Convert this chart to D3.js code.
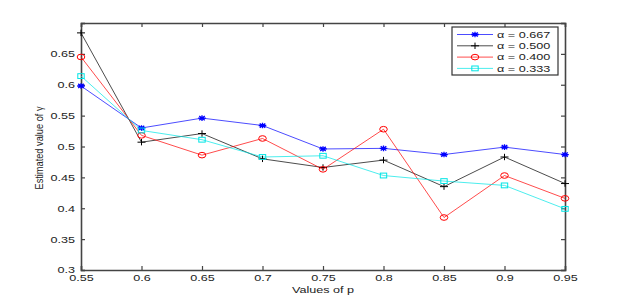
<!DOCTYPE html>
<meta charset="utf-8">
<style>
    body { margin: 0; background: #fff; }
    svg text { font-family: "Liberation Sans", Arial, sans-serif; fill: #222; }
    .axis path, .axis line { stroke: #444; }
</style>
<svg width="623" height="305"></svg>
<script src="https://d3js.org/d3.v7.min.js"></script>
<script>

var pValues = [0.55, 0.6, 0.65, 0.7, 0.75, 0.8, 0.85, 0.9, 0.95];
var alpha667 = [0.598, 0.530, 0.546, 0.534, 0.496, 0.497, 0.487, 0.499, 0.487];
var alpha500 = [0.684, 0.507, 0.521, 0.480, 0.466, 0.478, 0.435, 0.483, 0.440];
var alpha400 = [0.645, 0.518, 0.486, 0.513, 0.463, 0.528, 0.385, 0.453, 0.416];
var alpha333 = [0.614, 0.526, 0.511, 0.483, 0.485, 0.453, 0.444, 0.437, 0.399];
var seriesNames = ["\u03b1 = 0.667", "\u03b1 = 0.500", "\u03b1 = 0.400", "\u03b1 = 0.333"];
var xTicks = [0.55, 0.6, 0.65, 0.7, 0.75, 0.8, 0.85, 0.9, 0.95];
var yTicks = [0.3, 0.35, 0.4, 0.45, 0.5, 0.55, 0.6, 0.65, 0.7];

var series = [
    {name: seriesNames[0], values: alpha667, color: "#0000ff", marker: "star"},
    {name: seriesNames[1], values: alpha500, color: "#000000", marker: "plus"},
    {name: seriesNames[2], values: alpha400, color: "#ff0000", marker: "circle"},
    {name: seriesNames[3], values: alpha333, color: "#00e5e5", marker: "square"}
];

var svg = d3.select("svg"),
    margin = {top: 23, right: 58, bottom: 35, left: 81},
    width = +svg.attr("width") - margin.left - margin.right,
    height = +svg.attr("height") - margin.top - margin.bottom;

var x = d3.scaleLinear().domain([0.55, 0.95]).range([0, width]),
    y = d3.scaleLinear().domain([0.3, 0.7]).range([height, 0]);

var g = svg.append("g")
    .attr("transform", "translate(" + margin.left + "," + margin.top + ")");

// stretch text horizontally like the reference (wide glyphs)
function stretch(sel, k) {
    sel.each(function() {
        var len = this.getComputedTextLength();
        d3.select(this).attr("textLength", len * k).attr("lengthAdjust", "spacingAndGlyphs");
    });
}

var fmt = function(d) { return d3.format("")(+d.toFixed(2)); };

// axes on all four sides, ticks inward
var xb = g.append("g").attr("class", "axis")
    .attr("transform", "translate(0," + height + ")")
    .call(d3.axisBottom(x).tickValues(xTicks).tickSize(-4).tickPadding(5).tickFormat(fmt));
var xt = g.append("g").attr("class", "axis")
    .call(d3.axisTop(x).tickValues(xTicks).tickSize(-4).tickFormat(""));
var yl = g.append("g").attr("class", "axis")
    .call(d3.axisLeft(y).tickValues(yTicks).tickSize(-4).tickPadding(6)
        .tickFormat(function(d) { return d >= 0.69 ? "" : fmt(d); }));
var yr = g.append("g").attr("class", "axis")
    .attr("transform", "translate(" + width + ",0)")
    .call(d3.axisRight(y).tickValues(yTicks).tickSize(-4).tickFormat(""));

g.selectAll(".axis path").attr("stroke-width", 1.6);
g.selectAll(".axis .tick line").attr("stroke-width", 1.2);
g.selectAll(".axis text").attr("font-size", 9).attr("fill", "#222")
    .attr("font-family", "Liberation Sans, Arial, sans-serif");
xb.selectAll("text").attr("dy", "0.71em");
stretch(g.selectAll(".axis text"), 1.4);

// lines
var line = d3.line()
    .x(function(d, i) { return x(pValues[i]); })
    .y(function(d) { return y(d); });

series.forEach(function(s) {
    g.append("path")
        .datum(s.values)
        .attr("fill", "none")
        .attr("stroke", s.color)
        .attr("stroke-opacity", 0.7)
        .attr("stroke-width", 1)
        .attr("d", line);
});

function drawMarker(sel, type, color, cx, cy) {
    if (type === "star") {
        sel.append("path")
            .attr("d", "M" + (cx - 3.8) + "," + cy + "H" + (cx + 3.8) +
                "M" + cx + "," + (cy - 2.8) + "V" + (cy + 2.8) +
                "M" + (cx - 2.8) + "," + (cy - 2.1) + "L" + (cx + 2.8) + "," + (cy + 2.1) +
                "M" + (cx - 2.8) + "," + (cy + 2.1) + "L" + (cx + 2.8) + "," + (cy - 2.1))
            .attr("stroke", color).attr("stroke-width", 1.3).attr("fill", "none");
    } else if (type === "plus") {
        sel.append("path")
            .attr("d", "M" + (cx - 4) + "," + cy + "H" + (cx + 4) +
                "M" + cx + "," + (cy - 3.2) + "V" + (cy + 3.2))
            .attr("stroke", color).attr("stroke-width", 1).attr("fill", "none");
    } else if (type === "circle") {
        sel.append("ellipse")
            .attr("cx", cx).attr("cy", cy).attr("rx", 3.8).attr("ry", 2.8)
            .attr("stroke", color).attr("stroke-width", 1).attr("fill", "none");
    } else {
        sel.append("rect")
            .attr("x", cx - 3.2).attr("y", cy - 2.4).attr("width", 6.4).attr("height", 4.8)
            .attr("stroke", color).attr("stroke-width", 1).attr("fill", "none");
    }
}

series.forEach(function(s) {
    var mg = g.append("g");
    s.values.forEach(function(v, i) {
        drawMarker(mg, s.marker, s.color, x(pValues[i]), y(v));
    });
});

// axis labels
svg.append("text")
    .attr("x", margin.left + width / 2)
    .attr("y", 293)
    .attr("text-anchor", "middle")
    .attr("font-size", 9)
    .text("Values of p")
    .call(stretch, 1.4);

svg.append("text")
    .attr("transform", "translate(43," + (margin.top + 125) + ") rotate(-90)")
    .attr("text-anchor", "middle")
    .attr("font-size", 10.5)
    .attr("textLength", 83)
    .attr("lengthAdjust", "spacingAndGlyphs")
    .text("Estimated value of \u03b3");

// legend
var legend = svg.append("g").attr("transform", "translate(452,27)");
legend.append("rect")
    .attr("width", 106).attr("height", 48)
    .attr("fill", "#fff").attr("stroke", "#333").attr("stroke-width", 1.2);

series.forEach(function(s, i) {
    var ly = 7.5 + i * 11.3;
    legend.append("line")
        .attr("x1", 5).attr("x2", 41).attr("y1", ly).attr("y2", ly)
        .attr("stroke", s.color).attr("stroke-opacity", 0.7).attr("stroke-width", 1);
    drawMarker(legend, s.marker, s.color, 23, ly);
    legend.append("text")
        .attr("x", 45).attr("y", ly).attr("dy", "0.35em")
        .attr("font-size", 9)
        .text(s.name)
        .call(stretch, 1.4);
});

</script>
